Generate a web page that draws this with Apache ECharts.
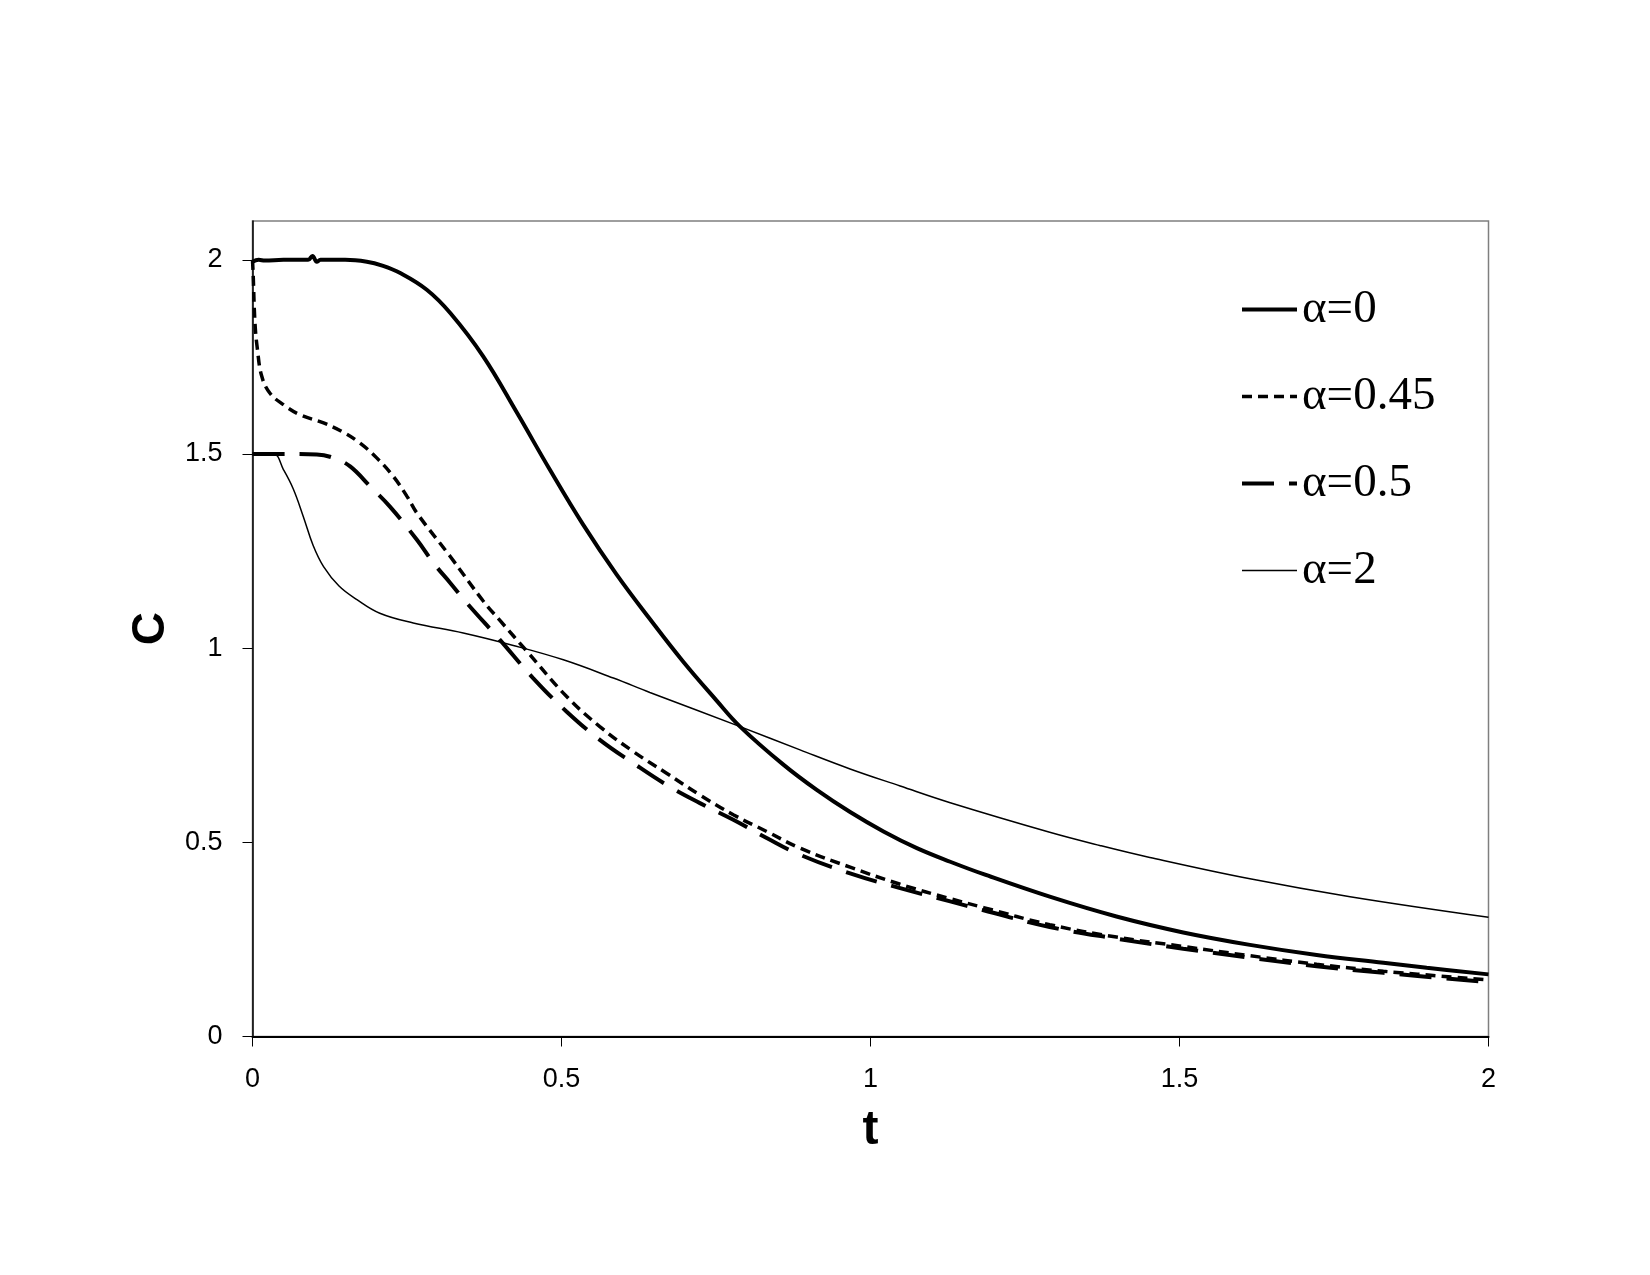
<!DOCTYPE html>
<html>
<head>
<meta charset="utf-8">
<script src="https://cdn.jsdelivr.net/npm/echarts@6/dist/echarts.min.js"></script>
<style>
  html, body { margin: 0; padding: 0; background: #fff; }
  #chart { width: 1650px; height: 1275px; }
</style>
</head>
<body>
<div id="chart"></div>
<script>
// readings (t, C)
const alpha0T = [0, 0.01, 0.02, 0.05, 0.09, 0.097, 0.104, 0.11, 0.15, 0.185, 0.21, 0.239, 0.282, 0.32, 0.373, 0.428, 0.481, 0.535, 0.589, 0.643, 0.697, 0.751, 0.789, 0.859, 0.913, 0.967, 1.021, 1.075, 1.129, 1.183, 1.29, 1.398, 1.506, 1.614, 1.722, 1.83, 1.9, 2.0];
const alpha0C = [1.995, 2.0, 1.998, 2.0, 2.0, 2.01, 1.995, 2.0, 2.0, 1.995, 1.985, 1.966, 1.923, 1.863, 1.752, 1.606, 1.46, 1.318, 1.19, 1.075, 0.965, 0.865, 0.798, 0.7, 0.635, 0.578, 0.528, 0.485, 0.45, 0.418, 0.36, 0.309, 0.268, 0.236, 0.21, 0.19, 0.177, 0.16];

const alpha045T = [0, 0.001, 0.004, 0.008, 0.015, 0.028, 0.05, 0.077, 0.115, 0.147, 0.174, 0.201, 0.228, 0.25, 0.266, 0.32, 0.373, 0.4, 0.444, 0.508, 0.562, 0.616, 0.67, 0.724, 0.778, 0.832, 0.886, 0.967, 1.048, 1.129, 1.183, 1.29, 1.398, 1.506, 1.614, 1.722, 1.83, 2.0];
const alpha045C = [2.0, 1.966, 1.838, 1.769, 1.7, 1.657, 1.627, 1.601, 1.58, 1.556, 1.528, 1.49, 1.442, 1.391, 1.348, 1.236, 1.122, 1.072, 0.992, 0.876, 0.798, 0.734, 0.678, 0.622, 0.571, 0.528, 0.485, 0.436, 0.392, 0.355, 0.332, 0.288, 0.256, 0.232, 0.208, 0.186, 0.168, 0.146];

const alpha05T = [0, 0.05, 0.104, 0.131, 0.158, 0.19, 0.222, 0.266, 0.293, 0.32, 0.347, 0.4, 0.454, 0.508, 0.562, 0.616, 0.67, 0.724, 0.778, 0.832, 0.886, 0.967, 1.048, 1.129, 1.183, 1.29, 1.398, 1.506, 1.614, 1.722, 1.83, 2.0];
const alpha05C = [1.5, 1.5, 1.499, 1.49, 1.468, 1.417, 1.365, 1.279, 1.219, 1.168, 1.116, 1.022, 0.923, 0.837, 0.764, 0.704, 0.648, 0.601, 0.558, 0.511, 0.468, 0.42, 0.382, 0.348, 0.325, 0.282, 0.252, 0.226, 0.203, 0.181, 0.164, 0.14];

const alpha2T = [0, 0.034, 0.05, 0.066, 0.082, 0.098, 0.115, 0.14, 0.169, 0.206, 0.26, 0.341, 0.422, 0.503, 0.584, 0.643, 0.789, 0.886, 0.967, 1.048, 1.129, 1.29, 1.371, 1.452, 1.614, 1.776, 2.0];
const alpha2C = [1.5, 1.5, 1.46, 1.41, 1.34, 1.265, 1.21, 1.16, 1.125, 1.09, 1.065, 1.039, 1.007, 0.97, 0.923, 0.886, 0.798, 0.738, 0.689, 0.645, 0.602, 0.526, 0.492, 0.461, 0.406, 0.36, 0.307];

const seriesNames = ['α=0', 'α=0.45', 'α=0.5', 'α=2'];
const seriesWidths = [4, 3.5, 4, 1.5];
const seriesDashes = ['solid', [10, 6], [32, 15], 'solid'];
const yTicks = [0, 0.5, 1, 1.5, 2];

const zip = (xs, ys) => xs.map((x, i) => [x, ys[i]]);

const chart = echarts.init(document.getElementById('chart'), null, { renderer: 'canvas' });

const lineSeries = (i, t, c) => ({
    name: seriesNames[i],
    type: 'line',
    data: zip(t, c),
    symbol: 'none',
    smooth: 0.4,
    lineStyle: { color: '#000', width: seriesWidths[i], type: seriesDashes[i] },
    itemStyle: { color: '#000' },
    z: 3
});

chart.setOption({
    backgroundColor: '#fff',
    animation: false,
    grid: {
        left: 252.5,
        right: 161.5,
        top: 221,
        bottom: 238.5,
        show: true,
        borderColor: '#7f7f7f',
        borderWidth: 1.5,
        backgroundColor: 'transparent'
    },
    legend: {
        data: seriesNames.map((name, i) => ({
            name,
            lineStyle: { color: '#000', width: seriesWidths[i], type: seriesDashes[i] }
        })),
        orient: 'vertical',
        left: 1235,
        top: 281,
        itemWidth: 55,
        itemHeight: 14,
        itemGap: 40,
        itemStyle: { color: 'rgba(0,0,0,0)', borderColor: 'rgba(0,0,0,0)', borderWidth: 0 },
        textStyle: { fontFamily: 'Liberation Serif', fontSize: 47, color: '#000' }
    },
    xAxis: {
        type: 'value',
        min: 0,
        max: 2,
        interval: 0.5,
        name: 't',
        nameLocation: 'middle',
        nameGap: 70,
        nameTextStyle: { fontFamily: 'Liberation Sans', fontWeight: 'bold', fontSize: 48, color: '#000' },
        axisLine: { lineStyle: { color: '#000', width: 2 } },
        axisTick: { show: true, inside: false, length: 10, lineStyle: { color: '#000', width: 1 } },
        axisLabel: { margin: 30, fontFamily: 'Liberation Sans', fontSize: 27, color: '#000' },
        splitLine: { show: false }
    },
    yAxis: {
        type: 'value',
        min: 0,
        max: 2.1,
        name: 'C',
        nameLocation: 'middle',
        nameGap: 77,
        nameTextStyle: { fontFamily: 'Liberation Sans', fontWeight: 'bold', fontSize: 46, color: '#000' },
        axisLine: { show: true, lineStyle: { color: '#000', width: 1.5 } },
        axisTick: { show: true, inside: false, length: 10, customValues: yTicks, lineStyle: { color: '#000', width: 1 } },
        axisLabel: { margin: 30, customValues: yTicks, fontFamily: 'Liberation Sans', fontSize: 27, color: '#000' },
        splitLine: { show: false }
    },
    series: [
        lineSeries(0, alpha0T, alpha0C),
        lineSeries(1, alpha045T, alpha045C),
        lineSeries(2, alpha05T, alpha05C),
        lineSeries(3, alpha2T, alpha2C)
    ]
});
</script>
</body>
</html>
